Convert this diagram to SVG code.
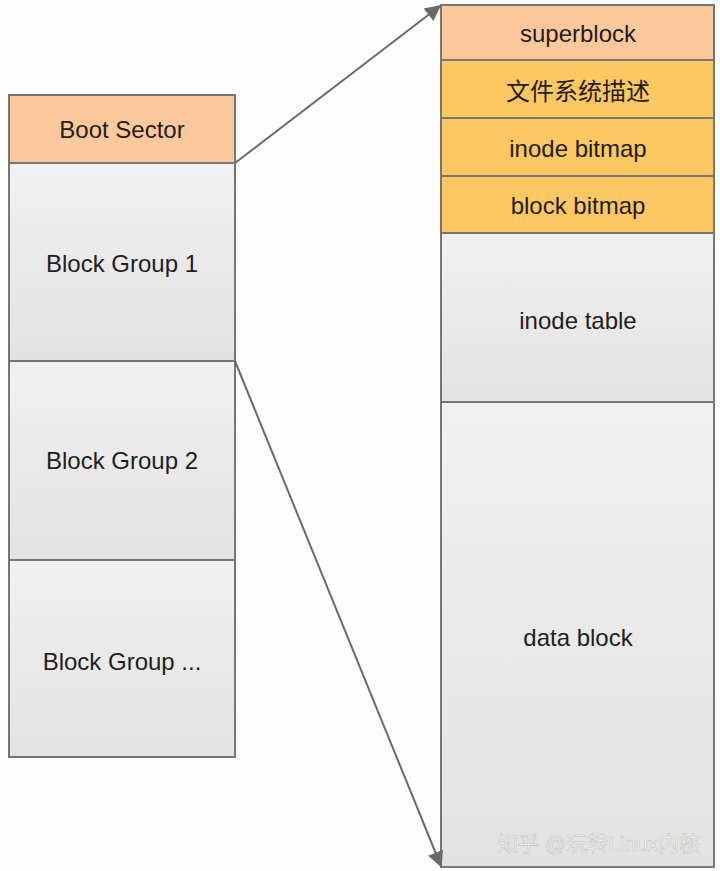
<svg xmlns="http://www.w3.org/2000/svg" width="720" height="871" viewBox="0 0 720 871">
<style>
.box{stroke:#767676;stroke-width:2}
.peach{fill:#FCC89C}
.orange{fill:#FDC761}
.gray{fill:url(#g)}
text{font-family:"Liberation Sans","Noto Sans CJK SC",Arial,sans-serif;font-size:24px;fill:#1e1e1e;text-anchor:middle;dominant-baseline:central}
.wm{font-size:21px;fill:#f4f4f4;stroke:#c4c4c4;stroke-width:0.6;text-anchor:start}
</style>
<defs>
<linearGradient id="g" x1="0" y1="0" x2="0" y2="1">
<stop offset="0" stop-color="#F1F1F1"/>
<stop offset="1" stop-color="#E2E2E2"/>
</linearGradient>
<marker id="ah" viewBox="0 0 10 10" refX="9" refY="5" markerWidth="18" markerHeight="16" markerUnits="userSpaceOnUse" orient="auto">
<path d="M0,0 L10,5 L0,10 z" fill="#6a6a6a"/>
</marker>
</defs>
<rect width="720" height="871" fill="#FDFDFD"/>
<g id="boot-sector"><rect class="box peach" x="9" y="95" width="226" height="68"/><text x="122" y="129">Boot Sector</text></g>
<g id="block-group-1"><rect class="box gray" x="9" y="163" width="226" height="198"/><text x="122" y="263">Block Group 1</text></g>
<g id="block-group-2"><rect class="box gray" x="9" y="361" width="226" height="199"/><text x="122" y="460">Block Group 2</text></g>
<g id="block-group-n"><rect class="box gray" x="9" y="560" width="226" height="197"/><text x="122" y="661">Block Group ...</text></g>
<g id="superblock"><rect class="box peach" x="441" y="5" width="273" height="55"/><text x="578" y="33">superblock</text></g>
<g id="fs-desc"><rect class="box orange" x="441" y="60" width="273" height="58"/><text x="578" y="91">文件系统描述</text></g>
<g id="inode-bitmap"><rect class="box orange" x="441" y="118" width="273" height="58"/><text x="578" y="148">inode bitmap</text></g>
<g id="block-bitmap"><rect class="box orange" x="441" y="176" width="273" height="57"/><text x="578" y="205">block bitmap</text></g>
<g id="inode-table"><rect class="box gray" x="441" y="233" width="273" height="169"/><text x="578" y="320">inode table</text></g>
<g id="data-block"><rect class="box gray" x="441" y="402" width="273" height="465"/><text x="578" y="637">data block</text></g>
<g id="connectors">
<line x1="235" y1="163" x2="440" y2="6" stroke="#6a6a6a" stroke-width="2" marker-end="url(#ah)"/>
<line x1="235" y1="361" x2="441" y2="866" stroke="#6a6a6a" stroke-width="2" marker-end="url(#ah)"/>
</g>
<text class="wm" x="497" y="843">知乎 @玩转Linux内核</text>
</svg>
